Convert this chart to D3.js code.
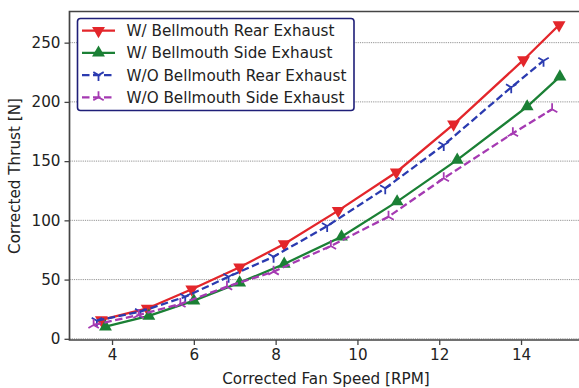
<!DOCTYPE html>
<html>
<head>
    <meta charset="UTF-8">
    <title>Corrected thrust</title>
    <style>
        body {
            margin: 0;
            overflow: hidden;
            background-color: #fff;
        }
        text {
            font-family: "DejaVu Sans", sans-serif;
            fill: #222;
        }
    </style>
    <script src="https://cdn.jsdelivr.net/npm/d3@7"></script>
</head>
<body>
    <script>
        // valori
        const rearWithX = [3.74, 4.86, 5.95, 7.12, 8.21, 9.53, 10.95, 12.35, 14.06, 14.93];
        const rearWithY = [15.9, 25.6, 41.8, 60.4, 80.0, 108.2, 140.6, 181.1, 235.4, 264.9];
        const sideWithX = [3.84, 4.9, 6.0, 7.12, 8.21, 9.61, 10.97, 12.44, 14.15, 14.95];
        const sideWithY = [10.2, 19.3, 32.2, 47.4, 63.2, 86.2, 115.8, 151.0, 196.0, 221.3];
        const rearWithoutX = [3.63, 4.69, 5.79, 6.85, 7.95, 9.26, 10.68, 12.11, 13.76, 14.55];
        const rearWithoutY = [15.3, 22.9, 35.5, 52.4, 69.3, 95.2, 127.1, 163.6, 212.3, 234.8];
        const sideWithoutX = [3.55, 4.65, 5.67, 6.81, 7.95, 9.35, 10.76, 12.11, 13.8, 14.76];
        const sideWithoutY = [11.7, 20.1, 29.4, 44.0, 56.7, 78.4, 103.1, 135.5, 173.5, 193.8];

        const seriesNames = ["W/ Bellmouth Rear Exhaust", "W/ Bellmouth Side Exhaust",
            "W/O Bellmouth Rear Exhaust", "W/O Bellmouth Side Exhaust"];
        const xTicks = [4, 6, 8, 10, 12, 14];
        const yTicks = [0, 50, 100, 150, 200, 250];

        const width = 579, height = 388;
        const fs = '15.2px';
        const svg = d3.select('body').append('svg')
            .attr('width', width)
            .attr('height', height);

        const mLeft = 69.5, mTop = 11.5, mBottom = 340;
        const x = d3.scaleLinear().domain([2.96, 15.6]).range([mLeft, mLeft + 12.64 * 40.9]);
        const y = d3.scaleLinear().domain([-1, 276.3]).range([mBottom, mTop]);

        const series = [
            {name: seriesNames[0], xs: rearWithX, ys: rearWithY, color: '#e3262b', dash: null, marker: 'down'},
            {name: seriesNames[1], xs: sideWithX, ys: sideWithY, color: '#1b8035', dash: null, marker: 'up'},
            {name: seriesNames[2], xs: rearWithoutX, ys: rearWithoutY, color: '#2b3bb0', dash: '7.5,3.5', marker: 'tridown'},
            {name: seriesNames[3], xs: sideWithoutX, ys: sideWithoutY, color: '#a53ab2', dash: '7.5,3.5', marker: 'triup'},
        ];

        svg.append('clipPath').attr('id', 'clip')
            .append('rect').attr('x', mLeft).attr('y', mTop)
            .attr('width', width - mLeft).attr('height', mBottom - mTop);

        // griglia
        svg.append('g').selectAll('line')
            .data(yTicks).join('line')
            .attr('x1', mLeft).attr('x2', width)
            .attr('y1', d => y(d)).attr('y2', d => y(d))
            .attr('stroke', '#888').attr('stroke-width', 0.9)
            .attr('stroke-dasharray', '1.2,1');

        const line = d3.line().x(d => x(d[0])).y(d => y(d[1]));

        const drawMarker = (g, type, color) => {
            if (type === 'down' || type === 'up') {
                g.append('path')
                    .attr('d', d3.symbol(d3.symbolTriangle, 72)())
                    .attr('transform', type === 'down' ? 'rotate(180)' : null)
                    .attr('fill', color);
            } else {
                const r = 6;
                const s = type === 'tridown' ? 1 : -1;
                const p = `M0,0L0,${s * r}M0,0L${-r * 0.87},${-s * r * 0.5}M0,0L${r * 0.87},${-s * r * 0.5}`;
                g.append('path').attr('d', p)
                    .attr('stroke', color).attr('stroke-width', 1.8).attr('fill', 'none');
            }
        };

        const plot = svg.append('g').attr('clip-path', 'url(#clip)');
        series.forEach(s => {
            const pts = s.xs.map((v, i) => [v, s.ys[i]]);
            plot.append('path')
                .datum(pts)
                .attr('d', line)
                .attr('fill', 'none')
                .attr('stroke', s.color)
                .attr('stroke-width', 2.3)
                .attr('stroke-dasharray', s.dash);
            pts.forEach(p => {
                const g = plot.append('g').attr('transform', `translate(${x(p[0])},${y(p[1])})`);
                drawMarker(g, s.marker, s.color);
            });
        });

        // assi
        const xAxis = svg.append('g')
            .attr('transform', `translate(0,${mBottom})`)
            .call(d3.axisBottom(x).tickValues(xTicks).tickSize(5).tickPadding(4));
        const yAxis = svg.append('g')
            .attr('transform', `translate(${mLeft},0)`)
            .call(d3.axisLeft(y).tickValues(yTicks).tickSize(5).tickPadding(4));
        [xAxis, yAxis].forEach(a => {
            a.select('.domain').remove();
            a.selectAll('line').attr('stroke', '#444').attr('stroke-width', 1.3);
            a.selectAll('text').style('font-size', fs).style('font-family', 'DejaVu Sans').attr('fill', '#222');
        });
        // cornice
        svg.append('path')
            .attr('d', `M${width},${mTop}H${mLeft}V${mBottom}H${width}`)
            .attr('fill', 'none').attr('stroke', '#444').attr('stroke-width', 1.7);

        svg.append('text')
            .attr('x', 326).attr('y', 384)
            .attr('text-anchor', 'middle')
            .style('font-size', fs)
            .text('Corrected Fan Speed [RPM]');
        svg.append('text')
            .attr('transform', 'translate(20,176) rotate(-90)')
            .attr('text-anchor', 'middle')
            .style('font-size', fs)
            .text('Corrected Thrust [N]');

        // legenda
        const legend = svg.append('g');
        legend.append('rect')
            .attr('x', 77.5).attr('y', 18.5).attr('width', 276.5).attr('height', 92)
            .attr('rx', 3)
            .attr('fill', '#fff').attr('stroke', '#1f1f78').attr('stroke-width', 1.6);
        series.forEach((s, i) => {
            const ly = 30.7 + i * 22.2;
            legend.append('line')
                .attr('x1', 82).attr('x2', 115)
                .attr('y1', ly).attr('y2', ly)
                .attr('stroke', s.color).attr('stroke-width', 2.3)
                .attr('stroke-dasharray', s.dash);
            drawMarker(legend.append('g').attr('transform', `translate(98.5,${ly})`), s.marker, s.color);
            legend.append('text')
                .attr('x', 126.5).attr('y', ly + 5.5)
                .style('font-size', fs)
                .text(s.name);
        });
    </script>
</body>
</html>
